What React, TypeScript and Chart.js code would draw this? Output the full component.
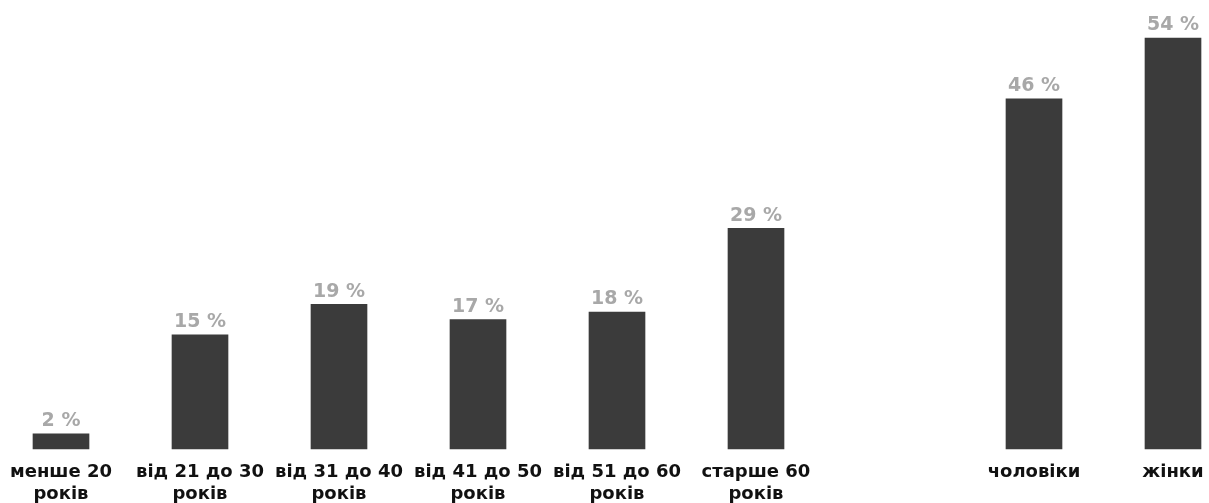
import React, { useEffect, useRef } from "react";
import { Chart, registerables } from "chart.js";

Chart.register(...registerables);

const categories: (string | string[])[] = [
  ["менше 20", "років"],
  ["від 21 до 30", "років"],
  ["від 31 до 40", "років"],
  ["від 41 до 50", "років"],
  ["від 51 до 60", "років"],
  ["старше 60", "років"],
  "",
  "чоловіки",
  "жінки",
];

const shares: (number | null)[] = [2, 15, 19, 17, 18, 29, null, 46, 54];

const valueLabelPlugin = {
  id: "valueLabels",
  afterDatasetsDraw(chart: any) {
    const ctx = chart.ctx;
    const meta = chart.getDatasetMeta(0);
    ctx.save();
    ctx.font = "bold 19px 'DejaVu Sans'";
    ctx.fillStyle = "#a8a8a8";
    ctx.textAlign = "center";
    ctx.textBaseline = "bottom";
    meta.data.forEach((bar: any, i: number) => {
      const v = shares[i];
      if (v === null || v === undefined) return;
      ctx.fillText(`${v} %`, bar.x, bar.y - 3);
    });
    ctx.restore();
  },
};

export default function App() {
  const ref = useRef<HTMLCanvasElement | null>(null);

  useEffect(() => {
    document.body.style.margin = "0";
    if (!ref.current) return;
    const chart = new Chart(ref.current, {
      type: "bar",
      data: {
        labels: categories as any,
        datasets: [
          {
            data: shares,
            backgroundColor: "#3b3b3b",
            barThickness: 56,
            clip: false as any,
          },
        ],
      },
      options: {
        animation: false,
        responsive: false,
        maintainAspectRatio: false,
        layout: { padding: { left: 61, right: 36, top: 0, bottom: 0 } },
        plugins: {
          legend: { display: false },
          tooltip: { enabled: false },
        },
        scales: {
          x: {
            offset: false,
            grid: { display: false, drawTicks: false },
            border: { display: false },
            afterFit: (scale: any) => {
              scale.paddingLeft = 0;
              scale.paddingRight = 0;
            },
            ticks: {
              autoSkip: false,
              maxRotation: 0,
              padding: 12,
              color: "#111",
              font: { family: "'DejaVu Sans'", weight: "bold", size: 18, lineHeight: 1.25 },
            },
          },
          y: {
            display: false,
            min: 0,
            max: 59,
          },
        },
      },
      plugins: [valueLabelPlugin],
    });
    return () => chart.destroy();
  }, []);

  return (
    <div style={{ position: "fixed", left: 0, top: 0, width: 1209, height: 503, overflow: "hidden", background: "#fff" }}>
      <canvas ref={ref} width={1209} height={518} style={{ width: 1209, height: 518, display: "block" }} />
    </div>
  );
}
